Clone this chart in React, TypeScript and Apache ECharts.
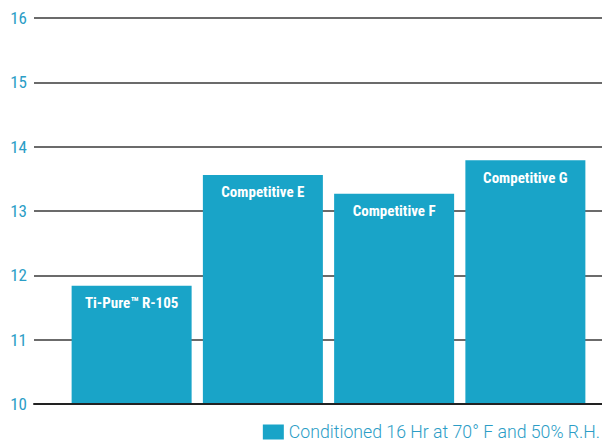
import React, { useEffect, useRef } from "react";
import * as echarts from "echarts";

const categories = ["Ti-Pure™ R-105", "Competitive E", "Competitive F", "Competitive G"];
const values = [11.84, 13.56, 13.27, 13.79];
const seriesName = "Conditioned 16 Hr at 70° F and 50% R.H.";
const yMin = 10;
const yMax = 16;
const yStep = 1;

const BAR = "#19a4c8";
const TEAL_TEXT = "#2b9dc6";

export default function App() {
  const ref = useRef<HTMLDivElement>(null);
  useEffect(() => {
    if (!ref.current) return;
    const chart = echarts.init(ref.current, null, { renderer: "svg" });
    chart.setOption({
      animation: false,
      backgroundColor: "#ffffff",
      grid: [
        { left: 34, right: 0, top: 18, bottom: 38 },
        { left: 66, right: 11, top: 18, bottom: 38 },
      ],
      legend: {
        data: [seriesName],
        right: 2,
        bottom: 1,
        padding: 0,
        icon: "rect",
        itemWidth: 21,
        itemHeight: 15,
        textStyle: { color: TEAL_TEXT, fontSize: 17.7, fontWeight: 300, fontFamily: "Roboto, sans-serif" },
      },
      xAxis: [
        {
          gridIndex: 0,
          type: "category",
          data: [""],
          z: 5,
          axisLine: { show: true, lineStyle: { color: "#222", width: 2 } },
          axisTick: { show: false },
          axisLabel: { show: false },
        },
        {
          gridIndex: 1,
          type: "category",
          data: categories,
          axisLine: { show: false },
          axisTick: { show: false },
          axisLabel: { show: false },
        },
      ],
      yAxis: [
        {
          gridIndex: 0,
          type: "value",
          min: yMin,
          max: yMax,
          interval: yStep,
          axisLine: { show: false },
          axisTick: { show: false },
          axisLabel: {
            color: TEAL_TEXT,
            fontSize: 17,
            margin: 7,
            fontFamily: "'Roboto Condensed', sans-serif",
          },
          splitLine: { show: true, lineStyle: { color: "#3a3a3a", width: 1.5 } },
        },
        {
          gridIndex: 1,
          type: "value",
          min: yMin,
          max: yMax,
          interval: yStep,
          show: false,
          splitLine: { show: false },
        },
      ],
      series: [
        {
          name: seriesName,
          type: "bar",
          xAxisIndex: 1,
          yAxisIndex: 1,
          data: values,
          barWidth: 120,
          itemStyle: { color: BAR },
          label: {
            show: true,
            position: "insideTop",
            distance: 10,
            formatter: (p: any) => categories[p.dataIndex],
            color: "#ffffff",
            fontSize: 15,
            fontWeight: "bold",
            fontFamily: "'Roboto Condensed', sans-serif",
          },
        },
      ],
    });
    return () => chart.dispose();
  }, []);
  return <div ref={ref} style={{ width: 602, height: 442, position: "absolute", left: 0, top: 0 }} />;
}
